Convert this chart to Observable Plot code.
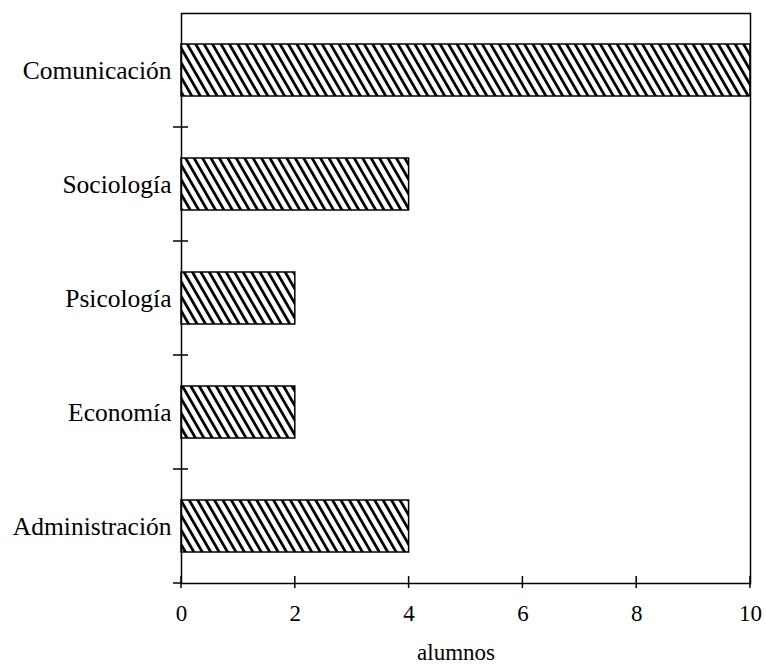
<!DOCTYPE html>
<html>
<head>
<meta charset="utf-8">
<script src="https://cdn.jsdelivr.net/npm/d3@7"></script>
<script src="https://cdn.jsdelivr.net/npm/@observablehq/plot@0.6"></script>
<style>
  html, body { margin: 0; padding: 0; background: white; }
</style>
</head>
<body>
<div id="chart"></div>
<script>
// Data
const categories = ["Comunicación", "Sociología", "Psicología", "Economía", "Administración"];
const alumnos = [10, 4, 2, 2, 4];
const xTicks = [0, 2, 4, 6, 8, 10];
const xLabel = "alumnos";

const data = categories.map((c, i) => ({carrera: c, alumnos: alumnos[i]}));

const W = 766, H = 664;
const mL = 181, mR = 16, mT = 13, mB = 81;

const chart = Plot.plot({
  width: W,
  height: H,
  marginLeft: mL,
  marginRight: mR,
  marginTop: mT,
  marginBottom: mB,
  style: {fontFamily: "'Liberation Serif', 'DejaVu Serif', serif", background: "white", color: "black"},
  x: {domain: [0, 10], ticks: xTicks, label: null},
  y: {domain: categories, paddingInner: 0.545, paddingOuter: 0.2725, label: null},
  marks: [
    Plot.barX(data, {x: "alumnos", y: "carrera", fill: "white", stroke: "black", strokeWidth: 1.5}),
    Plot.frame({stroke: "black", strokeWidth: 1.5}),
    Plot.axisY({tickSize: 0, tickPadding: 10, fontSize: 25.5, label: null}),
    Plot.axisX({ticks: xTicks, tickSize: 0, tickPadding: 21, fontSize: 23, label: null}),
    Plot.text([xLabel], {text: d => d, frameAnchor: "bottom", lineAnchor: "bottom", dy: 76, dx: -10, fontSize: 23})
  ]
});

document.getElementById("chart").appendChild(chart);

// Hatch pattern for the bars
const svg = d3.select(chart);
const defs = svg.insert("defs", ":first-child");
const pat = defs.append("pattern")
  .attr("id", "hatch")
  .attr("patternUnits", "userSpaceOnUse")
  .attr("width", 7.3).attr("height", 7.3)
  .attr("patternTransform", "rotate(-30)");
pat.append("rect").attr("width", 7.3).attr("height", 7.3).attr("fill", "white");
pat.append("rect").attr("x", 0).attr("width", 2.8).attr("height", 7.3).attr("fill", "black");
svg.selectAll("g[aria-label='bar'] rect").attr("fill", "url(#hatch)");

// Crossing ticks built from the plot's own scales
const x = chart.scale("x"), y = chart.scale("y");
const x0 = x.apply(0);
const yBottom = H - mB;
const g = svg.append("g").attr("stroke", "black").attr("stroke-width", 1.5).attr("fill", "none");
g.append("line").attr("x1", x0 - 8).attr("x2", x0).attr("y1", yBottom).attr("y2", yBottom);
xTicks.forEach(t => {
  const px = x.apply(t);
  g.append("line").attr("x1", px).attr("x2", px).attr("y1", yBottom - 7).attr("y2", yBottom + 5);
});
const gap = (y.step - y.bandwidth) / 2;
categories.slice(1).forEach(c => {
  const yy = y.apply(c) - gap;
  g.append("line").attr("x1", x0 - 8).attr("x2", x0 + 7).attr("y1", yy).attr("y2", yy);
});
</script>
</body>
</html>
